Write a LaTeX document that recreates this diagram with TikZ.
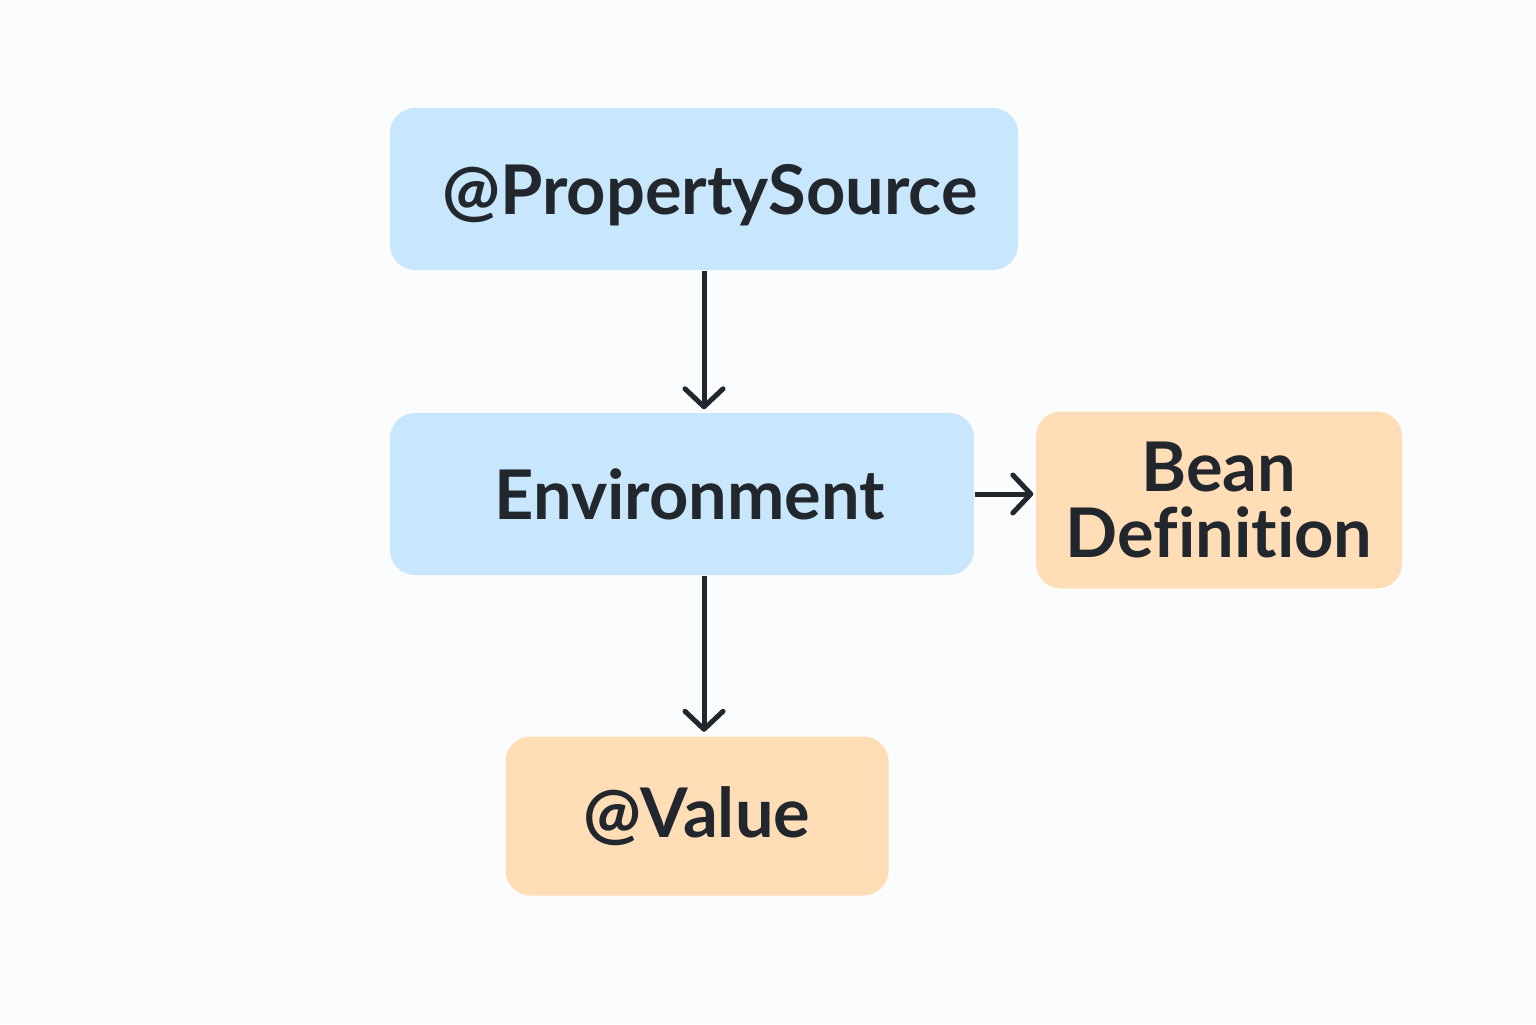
\documentclass[tikz,border=0pt]{standalone}
\usepackage{fontspec}
\setmainfont{Lato}[Ligatures=NoCommon]
\usepackage{xcolor}
\usetikzlibrary{arrows.meta,positioning,calc}
\definecolor{PageBg}{RGB}{251,252,254}
\definecolor{SoftBlue}{RGB}{200,230,252}
\definecolor{SoftOrange}{RGB}{254,221,183}
\definecolor{InkDark}{RGB}{34,39,46}

\begin{document}
\begin{tikzpicture}[every node/.style={font=\fontsize{19.5}{18.5}\selectfont\bfseries, text=InkDark},
  flowbox/.style={rounded corners=0.25cm, align=center, inner sep=0pt},
  flowarrow/.style={-{Straight Barb[length=0.18cm, width=0.38cm, line join=round, line cap=round]}, line width=0.05cm, draw=InkDark}]
\fill[PageBg] (0,0) rectangle (15.36,10.24);
\useasboundingbox (0,0) rectangle (15.36,10.24);
\node[flowbox, fill=SoftBlue, minimum width=6.28cm, minimum height=1.62cm, text depth=0pt] (prop) at (7.04,8.35) {\hspace*{0.12cm}@PropertySource};
\node[flowbox, fill=SoftBlue, minimum width=5.84cm, minimum height=1.62cm] (env) at (6.82,5.30) {\hspace*{0.16cm}Environment};
\node[flowbox, fill=SoftOrange, minimum width=3.66cm, minimum height=1.77cm] (bean) at (12.19,5.24) {Bean\\Definition};
\node[flowbox, fill=SoftOrange, minimum width=3.83cm, minimum height=1.59cm] (value) at (6.97,2.08) {@Value};

\draw[flowarrow] (prop.south) -- ($(prop.south |- env.north)+(0,0.03)$);
\draw[flowarrow] (env.south -| prop.south) -- ($(prop.south |- value.north)+(0,0.04)$);
\draw[flowarrow] (env.east) -- ($(env.east -| bean.west)+(-0.02,0)$);
\end{tikzpicture}
\end{document}
